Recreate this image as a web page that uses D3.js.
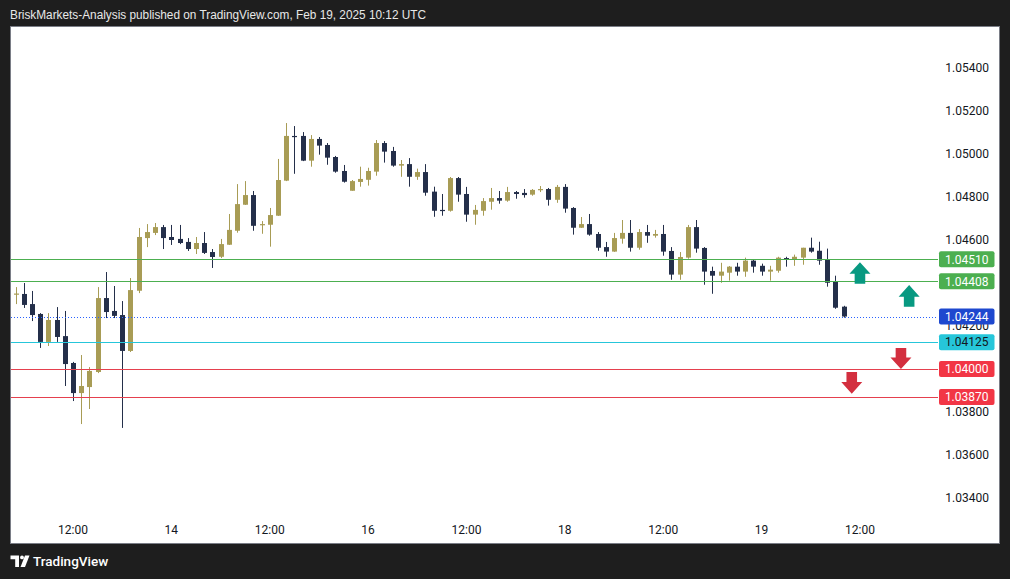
<!DOCTYPE html>
<html><head><meta charset="utf-8">
<script src="https://cdn.jsdelivr.net/npm/d3@7"></script>
<style>html,body{margin:0;padding:0;background:#1e1e1e;} svg{display:block}</style>
</head><body><svg id="c" width="1010" height="579"></svg>
<script>
// ---- DATA (EURUSD-like, hourly bars) ----
const open  = [1.04347,1.04349,1.04302,1.04256,1.04126,1.04228,1.04153,1.04028,1.03888,1.03916,
               1.03986,1.04330,1.04270,1.04251,1.04084,1.04364,1.04609,1.04633,1.04660,1.04614,
               1.04605,1.04591,1.04558,1.04586,1.04544,1.04522,1.04578,1.04643,1.04764,1.04809,
               1.04672,1.04671,1.04713,1.04876,1.05084,1.05084,1.04969,1.05070,1.05042,1.04986,
               1.04921,1.04829,1.04870,1.04880,1.04918,1.05051,1.05014,1.04946,1.04953,1.04894,
               1.04916,1.04825,1.04740,1.04736,1.04888,1.04814,1.04718,1.04736,1.04778,1.04795,
               1.04783,1.04823,1.04819,1.04811,1.04835,1.04837,1.04787,1.04847,1.04749,1.04657,
               1.04674,1.04628,1.04567,1.04546,1.04606,1.04633,1.04564,1.04637,1.04620,1.04628,
               1.04549,1.04439,1.04518,1.04660,1.04563,1.04456,1.04434,1.04448,1.04476,1.04453,
               1.04504,1.04480,1.04453,1.04457,1.04516,1.04508,1.04518,1.04564,1.04550,1.04508,
               1.04406,1.04290];
const high  = [1.04381,1.04400,1.04363,1.04260,1.04260,1.04288,1.04270,1.04033,1.04065,1.04009,
               1.04381,1.04451,1.04386,1.04316,1.04423,1.04656,1.04674,1.04679,1.04670,1.04670,
               1.04670,1.04609,1.04614,1.04637,1.04558,1.04605,1.04721,1.04860,1.04874,1.04828,
               1.04688,1.04749,1.04977,1.05144,1.05130,1.05102,1.05088,1.05079,1.05051,1.04991,
               1.04949,1.04879,1.04941,1.04936,1.05065,1.05060,1.05033,1.04972,1.04981,1.04932,
               1.04953,1.04848,1.04814,1.04893,1.04893,1.04847,1.04763,1.04795,1.04842,1.04828,
               1.04847,1.04828,1.04837,1.04837,1.04851,1.04842,1.04856,1.04860,1.04753,1.04707,
               1.04721,1.04637,1.04591,1.04633,1.04693,1.04693,1.04651,1.04670,1.04647,1.04670,
               1.04567,1.04544,1.04670,1.04693,1.04567,1.04476,1.04494,1.04479,1.04494,1.04518,
               1.04508,1.04490,1.04480,1.04522,1.04522,1.04532,1.04564,1.04611,1.04592,1.04560,
               1.04434,1.04294];
const low   = [1.04302,1.04284,1.04223,1.04098,1.04107,1.04126,1.03921,1.03851,1.03744,1.03814,
               1.03981,1.04237,1.04237,1.03726,1.04079,1.04353,1.04567,1.04623,1.04558,1.04577,
               1.04581,1.04549,1.04535,1.04535,1.04470,1.04516,1.04577,1.04634,1.04763,1.04643,
               1.04629,1.04569,1.04712,1.04874,1.04908,1.04967,1.04941,1.04997,1.04950,1.04913,
               1.04867,1.04829,1.04848,1.04853,1.04899,1.04960,1.04941,1.04894,1.04848,1.04880,
               1.04806,1.04708,1.04713,1.04732,1.04778,1.04685,1.04671,1.04713,1.04741,1.04769,
               1.04778,1.04792,1.04797,1.04806,1.04823,1.04760,1.04773,1.04727,1.04625,1.04656,
               1.04620,1.04550,1.04522,1.04545,1.04583,1.04546,1.04555,1.04587,1.04611,1.04527,
               1.04415,1.04415,1.04513,1.04541,1.04392,1.04350,1.04401,1.04411,1.04434,1.04429,
               1.04448,1.04434,1.04411,1.04448,1.04476,1.04480,1.04485,1.04541,1.04485,1.04383,
               1.04280,1.04239];
const close = [1.04351,1.04298,1.04251,1.04126,1.04228,1.04149,1.04023,1.03888,1.03921,1.03991,
               1.04330,1.04265,1.04247,1.04084,1.04367,1.04614,1.04637,1.04660,1.04609,1.04600,
               1.04586,1.04558,1.04586,1.04540,1.04521,1.04581,1.04647,1.04767,1.04809,1.04666,
               1.04674,1.04716,1.04879,1.05084,1.05081,1.04969,1.05070,1.05039,1.04983,1.04918,
               1.04871,1.04874,1.04884,1.04921,1.05051,1.05011,1.04946,1.04953,1.04894,1.04916,
               1.04820,1.04736,1.04737,1.04888,1.04811,1.04718,1.04740,1.04781,1.04795,1.04783,
               1.04823,1.04814,1.04809,1.04833,1.04837,1.04787,1.04847,1.04746,1.04657,1.04674,
               1.04625,1.04564,1.04546,1.04609,1.04633,1.04564,1.04637,1.04620,1.04628,1.04546,
               1.04439,1.04521,1.04660,1.04560,1.04453,1.04434,1.04453,1.04476,1.04453,1.04504,
               1.04476,1.04453,1.04462,1.04518,1.04514,1.04522,1.04564,1.04546,1.04504,1.04401,
               1.04285,1.04244];

const timeTickIndex  = [7, 19, 31, 43, 55, 67, 79, 91, 103];
const timeTickLabels = ["12:00","14","12:00","16","12:00","18","12:00","19","12:00"];
const priceTicks = [1.054,1.052,1.050,1.048,1.046,1.044,1.042,1.040,1.038,1.036,1.034];

const levelPrices = [1.04510, 1.04408, 1.04244, 1.04125, 1.04000, 1.03870];
const levelKinds  = ["resistance","resistance","last","pivot","support","support"];

const arrowIndex = [103, 109, 108, 102];
const arrowFrom  = [1.04397, 1.04290, 1.04098, 1.03986];
const arrowTo    = [1.04496, 1.04391, 1.04000, 1.03885];

const headerText = "BriskMarkets-Analysis published on TradingView.com, Feb 19, 2025 10:12 UTC";
const footerText = "TradingView";

// ---- STYLES ----
const UP = "#a89c55", DOWN = "#242f4a";
const kindStyle = {
  resistance:{line:"#4caf50", box:"#4caf50", text:"#ffffff", dash:null},
  last:      {line:"#2962ff", box:"#1e48cf", text:"#ffffff", dash:"1,2"},
  pivot:     {line:"#26c6da", box:"#26c6da", text:"#131722", dash:null},
  support:   {line:"#e5404e", box:"#f23645", text:"#ffffff", dash:null}
};
const FONT = "Roboto, 'Liberation Sans', Arial, sans-serif";

const svg = d3.select("#c");
const W = 1010, H = 579;
const PL = 10, PR = 1000, PT = 27, PB = 543, AXL = 938;

svg.append("rect").attr("width",W).attr("height",H).attr("fill","#1e1e1e");
svg.append("rect").attr("x",PL).attr("y",PT).attr("width",PR-PL).attr("height",PB-PT)
   .attr("fill","#ffffff");

const x = d3.scaleLinear().domain([-0.683, 112.52]).range([PL, AXL]);
const y = d3.scaleLinear().domain([1.034, 1.054]).range([498, 68]);

const data = open.map((o,i)=>({i, o, h:high[i], l:low[i], c:close[i]}));

// candles
const cg = svg.append("g");
const candle = cg.selectAll("g.k").data(data).join("g").attr("class","k");
candle.append("rect")
  .attr("x", d=>Math.round(x(d.i)))
  .attr("width",1)
  .attr("y", d=>y(d.h))
  .attr("height", d=>Math.max(1, y(d.l)-y(d.h)))
  .attr("fill", d=> d.c>=d.o ? UP : DOWN);
candle.append("rect")
  .attr("x", d=>Math.round(x(d.i))-2)
  .attr("width",5)
  .attr("y", d=>y(Math.max(d.o,d.c)))
  .attr("height", d=>Math.max(1.2, Math.abs(y(d.o)-y(d.c))))
  .attr("fill", d=> d.c>=d.o ? UP : DOWN);

// level lines
const lg = svg.append("g");
levelPrices.forEach((p,k)=>{
  const st = kindStyle[levelKinds[k]];
  const yy = Math.round(y(p))+0.5;
  const ln = lg.append("line").attr("x1",PL+1).attr("x2",AXL).attr("y1",yy).attr("y2",yy)
    .attr("stroke",st.line).attr("stroke-width",1);
  if (st.dash) ln.attr("stroke-dasharray",st.dash);
});

// arrows
const ag = svg.append("g");
arrowIndex.forEach((ix,k)=>{
  const cx = x(ix), y0 = y(arrowFrom[k]), y1 = y(arrowTo[k]);
  const up = y1 < y0;
  const len = Math.abs(y1-y0), dir = up ? 1 : -1;
  const headH = len*0.54, hw = 10.5, sw = 5.3;
  const hb = y1 + dir*headH;
  const pts = [[cx,y1],[cx+hw,hb],[cx+sw,hb],[cx+sw,y0],[cx-sw,y0],[cx-sw,hb],[cx-hw,hb]];
  ag.append("path").attr("d", d3.line()(pts)+"Z").attr("fill", up ? "#089981" : "#d32f3f");
});

// price axis labels
const pa = svg.append("g").attr("font-family",FONT).attr("font-size",12).attr("fill","#131722");
priceTicks.forEach(p=>{
  pa.append("text").attr("x",989).attr("y",y(p)).attr("dy","0.35em")
    .attr("text-anchor","end").text(p.toFixed(5));
});

// level label boxes
levelPrices.forEach((p,k)=>{
  const st = kindStyle[levelKinds[k]];
  const yy = y(p);
  svg.append("rect").attr("x",939).attr("y",yy-8).attr("width",55.5).attr("height",16)
    .attr("rx",2).attr("fill",st.box);
  svg.append("text").attr("x",966.7).attr("y",yy).attr("dy","0.36em")
    .attr("text-anchor","middle").attr("font-family",FONT).attr("font-size",12)
    .attr("fill",st.text).text(p.toFixed(5));
});

// time axis
const ta = svg.append("g").attr("font-family",FONT).attr("font-size",12).attr("fill","#131722");
timeTickIndex.forEach((ix,k)=>{
  ta.append("text").attr("x",x(ix)).attr("y",530).attr("dy","0.35em")
    .attr("text-anchor","middle").text(timeTickLabels[k]);
});

// frame border
svg.append("rect").attr("x",PL+0.5).attr("y",PT-0.5).attr("width",PR-PL-1).attr("height",PB-PT+1)
   .attr("fill","none").attr("stroke","#7a7d86").attr("stroke-width",1);

// header
svg.append("text").attr("x",10).attr("y",19).attr("font-family","'Liberation Sans', Arial, sans-serif")
  .attr("font-size",12.5).attr("fill","#e8e8e8").attr("textLength",416).attr("lengthAdjust","spacingAndGlyphs")
  .text(headerText);

// footer logo
const fg = svg.append("g").attr("fill","#ffffff");
fg.append("path").attr("d","M10.5,555.5 H19 V567 H15.2 V559.2 H10.5 Z");
fg.append("circle").attr("cx",22).attr("cy",557.4).attr("r",1.9);
fg.append("path").attr("d","M25,555.5 H29.5 L25,567 H20.5 Z");
svg.append("text").attr("x",33).attr("y",566).attr("font-family",FONT).attr("font-weight",500)
  .attr("font-size",13.5).attr("fill","#ffffff").text(footerText);
</script>
</body></html>
